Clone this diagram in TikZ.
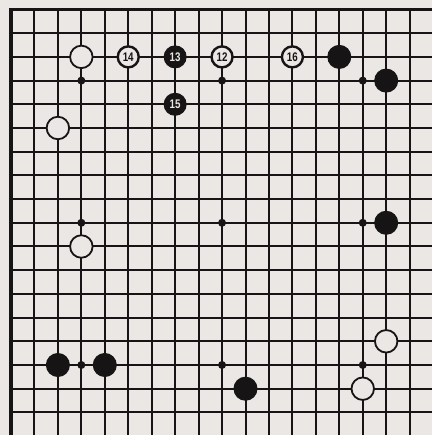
\documentclass[tikz,border=0pt]{standalone}
\usepackage{fontspec}
\usepackage{graphicx}
\setsansfont{Liberation Sans}
\definecolor{paper}{RGB}{234,231,228}
\definecolor{ink}{RGB}{22,20,20}
\newcommand{\stnum}[1]{\scalebox{0.78}[1]{#1}}
\begin{document}
\begin{tikzpicture}[x={(23.45pt,0pt)},y={(0pt,-23.7pt)},
  gridline/.style={draw=ink,line width=2pt},
  border/.style={draw=ink,line width=3.4pt},
  wstone/.style={circle,draw=ink,fill=paper,line width=1.8pt,minimum size=22.5pt,inner sep=0pt},
  bstone/.style={circle,draw=ink,fill=ink,line width=1pt,minimum size=23pt,inner sep=0pt},
  wnum/.style={circle,draw=ink,fill=paper,line width=2.4pt,minimum size=21pt,inner sep=0pt,
    font=\sffamily\bfseries\fontsize{12.5}{12.5}\selectfont,text=ink},
  bnum/.style={circle,draw=ink,fill=ink,line width=1pt,minimum size=22pt,inner sep=0pt,
    font=\sffamily\bfseries\fontsize{12.5}{12.5}\selectfont,text=paper},
  hoshi/.style={circle,fill=ink,minimum size=8pt,inner sep=0pt}]
\useasboundingbox[fill=paper] (-0.4691,-0.4008) rectangle (17.953,17.954);
% grid
\foreach \i in {1,...,17} \draw[gridline] (\i,0) -- (\i,17.954);
\foreach \j in {1,...,17} \draw[gridline] (0,\j) -- (17.953,\j);
\draw[border] (0,17.954) -- (0,0) -- (17.953,0);
% star points
\foreach \c/\r [count=\k] in {3/3,9/3,15/3,3/9,9/9,15/9,3/15,9/15,15/15}
  \node[hoshi] (h\k) at (\c,\r) {};
% stones
\node[wstone] (w1) at (3,2) {};
\node[wstone] (w2) at (2,5) {};
\node[wstone] (w3) at (3,10) {};
\node[wstone] (w4) at (16,14) {};
\node[wstone] (w5) at (15,16) {};
\node[bstone] (b1) at (14,2) {};
\node[bstone] (b2) at (16,3) {};
\node[bstone] (b3) at (16,9) {};
\node[bstone] (b4) at (2,15) {};
\node[bstone] (b5) at (4,15) {};
\node[bstone] (b6) at (10,16) {};
\node[wnum] (m12) at (9,2) {\stnum{12}};
\node[bnum] (m13) at (7,2) {\stnum{13}};
\node[wnum] (m14) at (5,2) {\stnum{14}};
\node[bnum] (m15) at (7,4) {\stnum{15}};
\node[wnum] (m16) at (12,2) {\stnum{16}};
\end{tikzpicture}
\end{document}
